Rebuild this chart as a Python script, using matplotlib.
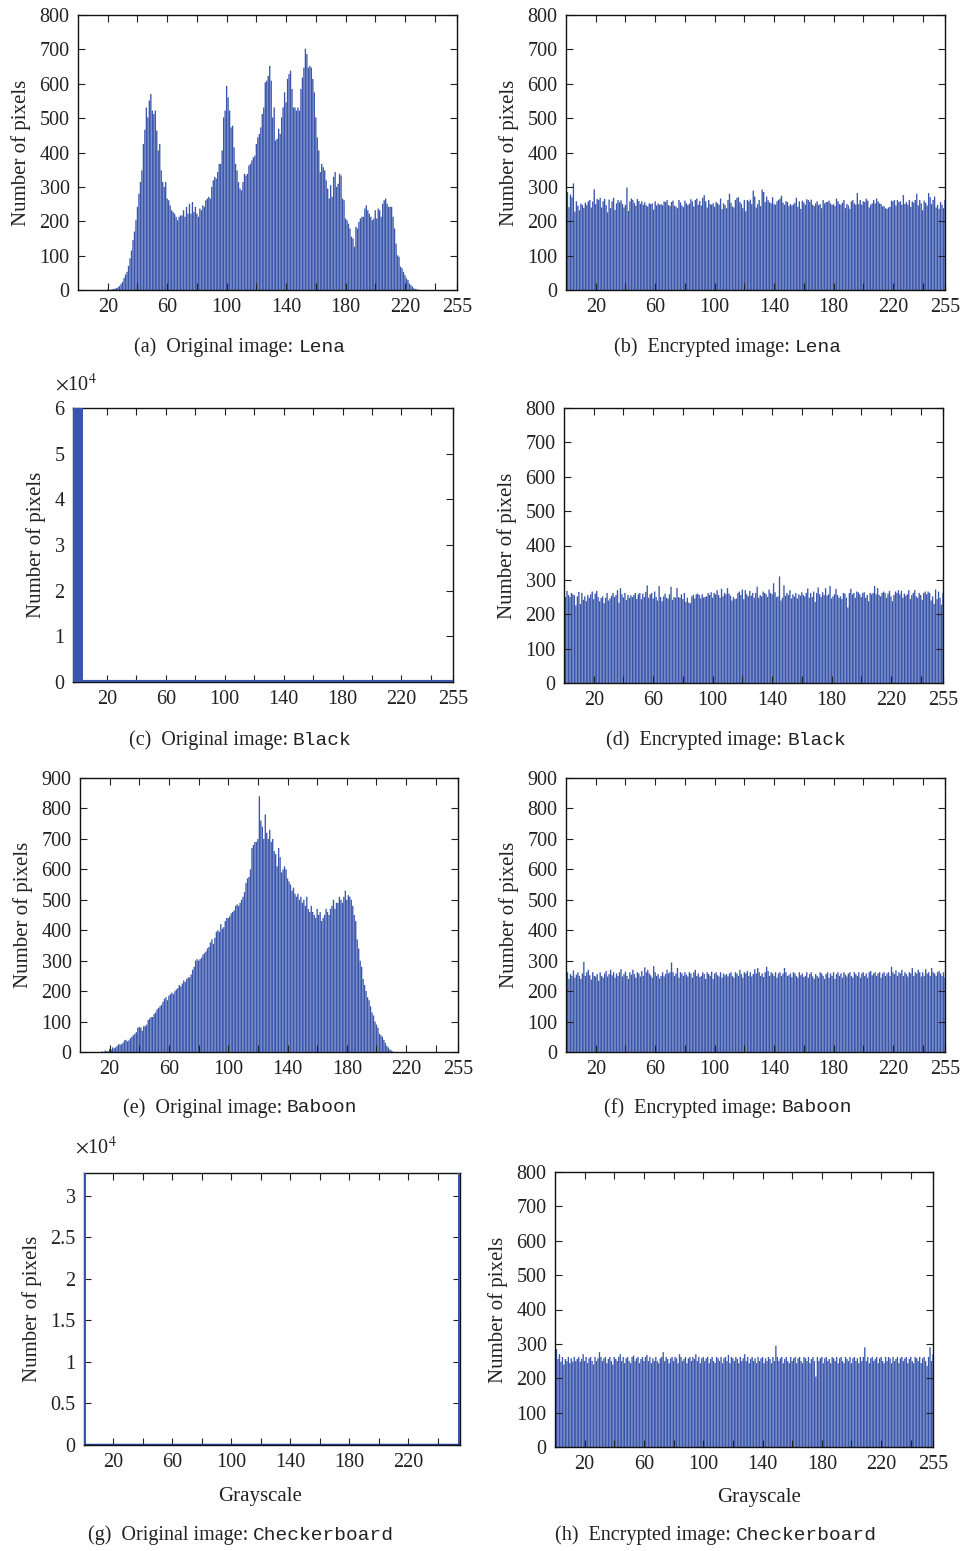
import numpy as np
import matplotlib
matplotlib.use("Agg")
import matplotlib.pyplot as plt

plt.rcParams['font.family'] = ['Liberation Serif', 'DejaVu Serif']
plt.rcParams['mathtext.fontset'] = 'stix'

##-----------------------------
## histogram data (256 grey levels each)
##-----------------------------
bins = np.arange(256)

lena_orig = [0]*20 + [
    2, 0, 1, 2, 3, 4, 6, 8, 12, 18, 24, 35, 45, 53, 70, 92,
    115, 145, 170, 203, 242, 280, 314, 348, 425, 466, 531, 502, 551, 570, 522, 512,
    522, 464, 406, 425, 348, 314, 300, 314, 266, 261, 246, 232, 227, 222, 213, 203,
    213, 217, 217, 232, 213, 242, 222, 251, 222, 256, 227, 242, 222, 213, 237, 232,
    246, 242, 261, 266, 271, 266, 300, 319, 329, 324, 343, 367, 367, 406, 502, 522,
    594, 560, 522, 473, 478, 415, 367, 348, 314, 295, 290, 314, 338, 333, 338, 362,
    367, 377, 386, 391, 425, 444, 454, 473, 512, 531, 604, 609, 623, 652, 609, 502,
    531, 435, 440, 469, 454, 502, 531, 575, 546, 614, 628, 638, 585, 531, 531, 522,
    531, 522, 585, 618, 647, 702, 686, 647, 652, 647, 614, 575, 502, 444, 406, 343,
    367, 357, 348, 319, 295, 266, 305, 271, 329, 343, 300, 309, 338, 333, 266, 261,
    208, 203, 193, 179, 155, 150, 126, 184, 179, 198, 208, 213, 213, 237, 246, 232,
    222, 213, 203, 208, 232, 208, 237, 232, 213, 251, 261, 266, 251, 242, 242, 242,
    213, 179, 135, 101, 97, 68, 63, 53, 43, 34, 29, 19, 14, 10, 5, 3,
    2, 1] + [0]*26

lena_enc = [
    262, 285, 241, 278, 270, 310, 228, 258, 245, 232, 251, 248, 239, 254, 247, 258,
    262, 240, 257, 293, 250, 265, 262, 268, 240, 258, 265, 247, 226, 263, 238, 258,
    268, 233, 252, 262, 255, 261, 250, 240, 248, 298, 230, 258, 266, 262, 253, 245,
    265, 259, 251, 258, 248, 255, 246, 243, 252, 250, 252, 234, 258, 246, 252, 248,
    250, 246, 258, 256, 262, 247, 244, 256, 260, 245, 243, 238, 262, 255, 246, 241,
    260, 252, 247, 251, 264, 258, 243, 262, 266, 248, 259, 246, 268, 276, 258, 240,
    262, 250, 248, 252, 242, 256, 252, 248, 266, 235, 252, 247, 238, 262, 280, 254,
    243, 240, 262, 268, 270, 256, 250, 238, 262, 229, 262, 258, 263, 250, 289, 272,
    240, 250, 262, 244, 292, 285, 256, 272, 261, 255, 252, 270, 250, 248, 258, 262,
    266, 274, 254, 248, 258, 256, 244, 250, 246, 249, 254, 268, 242, 258, 236, 260,
    255, 248, 264, 262, 256, 263, 248, 244, 252, 258, 247, 250, 238, 262, 252, 256,
    256, 260, 252, 247, 250, 244, 266, 258, 250, 248, 254, 262, 238, 250, 246, 236,
    258, 262, 252, 248, 282, 250, 262, 248, 258, 256, 266, 260, 240, 248, 252, 262,
    252, 266, 258, 252, 250, 243, 244, 238, 236, 240, 242, 260, 258, 262, 246, 262,
    256, 258, 248, 276, 250, 256, 248, 262, 242, 258, 254, 262, 280, 246, 262, 252,
    232, 260, 254, 246, 282, 270, 250, 262, 272, 240, 248, 236, 256, 248, 238, 262]

black_orig = [65536] + [0]*255

black_enc = [
    258, 250, 268, 256, 250, 262, 258, 255, 226, 252, 265, 230, 262, 242, 252, 238,
    256, 248, 258, 266, 244, 260, 268, 250, 238, 247, 252, 232, 248, 262, 240, 246,
    254, 262, 250, 256, 270, 234, 276, 258, 249, 262, 241, 256, 248, 255, 250, 256,
    262, 245, 258, 262, 244, 260, 250, 265, 284, 248, 258, 262, 246, 266, 250, 240,
    282, 250, 238, 252, 260, 248, 245, 258, 280, 242, 250, 248, 276, 250, 248, 258,
    244, 262, 236, 248, 234, 232, 252, 257, 246, 258, 260, 256, 246, 258, 249, 250,
    252, 262, 256, 264, 248, 262, 258, 270, 256, 248, 274, 252, 262, 258, 276, 260,
    254, 240, 250, 244, 246, 262, 266, 256, 272, 244, 270, 258, 252, 268, 254, 262,
    248, 262, 280, 248, 256, 252, 266, 262, 258, 250, 272, 262, 258, 290, 264, 250,
    252, 310, 240, 248, 284, 254, 262, 256, 270, 246, 258, 252, 262, 246, 258, 254,
    264, 256, 252, 262, 275, 248, 262, 250, 266, 236, 262, 278, 258, 250, 264, 256,
    276, 254, 258, 282, 246, 252, 258, 274, 256, 248, 252, 244, 262, 260, 248, 220,
    262, 274, 258, 262, 248, 266, 264, 258, 250, 262, 264, 248, 256, 238, 262, 258,
    262, 282, 258, 276, 256, 252, 262, 266, 262, 248, 260, 268, 252, 238, 256, 266,
    262, 270, 258, 268, 248, 260, 254, 258, 270, 244, 256, 262, 270, 252, 248, 262,
    256, 242, 262, 266, 258, 266, 262, 240, 252, 230, 272, 244, 266, 248, 228, 262]

baboon_orig = [0]*15 + [
    2, 0, 5, 2, 3, 10, 8, 15, 12, 15, 20, 25, 25, 25, 30, 38,
    40, 35, 38, 45, 50, 55, 60, 65, 80, 82, 80, 70, 85, 85, 90, 105,
    110, 115, 115, 125, 130, 140, 145, 150, 155, 165, 175, 180, 170, 185, 190, 195,
    190, 200, 205, 210, 220, 215, 225, 235, 230, 240, 245, 245, 255, 270, 280, 300,
    305, 300, 305, 310, 320, 325, 330, 340, 345, 360, 370, 355, 375, 395, 400, 395,
    420, 405, 410, 430, 440, 440, 445, 455, 460, 465, 480, 485, 480, 490, 500, 510,
    525, 555, 570, 575, 600, 670, 680, 690, 690, 700, 840, 760, 740, 700, 780, 720,
    700, 730, 690, 700, 660, 650, 610, 670, 640, 590, 600, 610, 600, 570, 560, 550,
    530, 540, 520, 510, 520, 500, 510, 490, 500, 480, 510, 470, 460, 480, 460, 450,
    440, 470, 450, 460, 430, 440, 450, 470, 460, 450, 470, 480, 500, 470, 490, 490,
    510, 500, 490, 510, 530, 500, 515, 510, 500, 480, 450, 430, 370, 340, 300, 280,
    240, 220, 200, 180, 170, 150, 130, 120, 100, 90, 80, 60, 55, 50, 40, 30,
    20, 15, 8, 5, 2] + [0]*44

baboon_enc = [
    248, 262, 240, 256, 250, 268, 244, 254, 262, 250, 240, 258, 296, 250, 262, 270,
    252, 238, 262, 250, 248, 256, 234, 262, 250, 244, 258, 266, 248, 256, 270, 252,
    262, 244, 258, 250, 262, 272, 248, 256, 264, 250, 240, 262, 254, 270, 256, 244,
    262, 258, 248, 266, 250, 278, 262, 270, 258, 252, 244, 282, 262, 250, 256, 242,
    250, 262, 248, 256, 270, 258, 262, 294, 262, 250, 258, 276, 244, 262, 258, 250,
    262, 254, 248, 262, 258, 244, 262, 270, 250, 258, 246, 250, 262, 256, 240, 262,
    256, 250, 264, 240, 258, 262, 252, 248, 262, 244, 258, 252, 256, 248, 258, 262,
    250, 244, 262, 258, 250, 270, 256, 244, 262, 258, 266, 250, 262, 248, 256, 272,
    258, 276, 262, 250, 258, 246, 262, 280, 266, 250, 262, 258, 250, 262, 244, 258,
    262, 250, 258, 276, 262, 250, 252, 258, 246, 262, 258, 250, 244, 262, 252, 258,
    246, 250, 262, 244, 256, 262, 248, 240, 256, 250, 244, 262, 258, 250, 240, 256,
    262, 244, 258, 250, 262, 240, 256, 262, 250, 258, 244, 262, 254, 248, 258, 262,
    250, 244, 262, 256, 250, 262, 244, 258, 262, 250, 258, 244, 262, 266, 252, 258,
    262, 250, 258, 262, 244, 258, 262, 250, 258, 262, 250, 280, 262, 256, 268, 250,
    262, 258, 270, 250, 262, 256, 248, 262, 258, 276, 250, 262, 258, 270, 262, 248,
    262, 250, 272, 258, 262, 250, 276, 262, 258, 250, 262, 266, 258, 250, 262, 244]

checker_orig = [32768] + [0]*254 + [32768]

checker_enc = [
    262, 285, 256, 270, 248, 262, 240, 256, 250, 262, 244, 258, 248, 262, 250, 256,
    262, 248, 256, 270, 250, 262, 244, 258, 262, 250, 240, 262, 250, 258, 276, 262,
    250, 258, 262, 244, 256, 262, 250, 240, 262, 256, 250, 262, 270, 250, 262, 244,
    258, 262, 250, 244, 262, 266, 250, 258, 262, 244, 256, 262, 250, 262, 268, 250,
    262, 244, 258, 250, 262, 250, 244, 258, 262, 276, 250, 262, 256, 244, 258, 262,
    250, 262, 258, 244, 270, 262, 250, 256, 262, 244, 258, 262, 250, 262, 256, 270,
    250, 262, 244, 258, 262, 250, 258, 262, 244, 256, 262, 250, 244, 262, 258, 250,
    262, 244, 258, 262, 250, 268, 244, 262, 258, 250, 262, 256, 244, 262, 250, 258,
    270, 250, 262, 244, 256, 262, 250, 258, 244, 262, 250, 258, 262, 244, 258, 250,
    262, 256, 244, 262, 250, 295, 262, 250, 258, 262, 244, 256, 262, 250, 244, 262,
    250, 258, 262, 244, 258, 262, 250, 244, 262, 258, 250, 262, 244, 256, 262, 250,
    205, 262, 250, 258, 262, 244, 258, 262, 250, 256, 244, 262, 258, 250, 262, 244,
    258, 262, 250, 244, 262, 256, 250, 262, 244, 258, 262, 250, 258, 244, 262, 250,
    262, 290, 250, 262, 244, 258, 262, 250, 256, 262, 244, 258, 262, 250, 244, 262,
    250, 262, 258, 244, 262, 250, 256, 262, 244, 258, 262, 250, 258, 262, 244, 256,
    262, 250, 244, 262, 258, 250, 262, 244, 258, 262, 250, 236, 262, 290, 250, 270]

xtick_vals = [20, 40, 60, 80, 100, 120, 140, 160, 180, 200, 220, 240, 255]
xtick_labels = ['20', '', '60', '', '100', '', '140', '', '180', '', '220', '', '255']

captions = [
    ('(a)  Original image: ', 'Lena'),
    ('(b)  Encrypted image: ', 'Lena'),
    ('(c)  Original image: ', 'Black'),
    ('(d)  Encrypted image: ', 'Black'),
    ('(e)  Original image: ', 'Baboon'),
    ('(f)  Encrypted image: ', 'Baboon'),
    ('(g)  Original image: ', 'Checkerboard'),
    ('(h)  Encrypted image: ', 'Checkerboard'),
]

BAR = '#3a56ab'
TXT = '#222222'
W, H = 964, 1551

##-----------------------------
## layout (pixels: left, top, right, bottom)
##-----------------------------
boxes = [
    (78, 15, 457, 290), (566, 15, 945, 290),
    (73, 408, 453, 682), (564, 408, 943, 683),
    (80, 778, 458, 1052), (566, 778, 945, 1052),
    (84, 1173, 460, 1445), (555, 1172, 933, 1447),
]
cap_pos = [(240, 347), (728, 347), (240, 740), (726, 740),
           (240, 1108), (728, 1108), (241, 1535), (716, 1535)]

fig = plt.figure(figsize=(W/100, H/100), dpi=100)

def make_ax(i):
    l, t, r, b = boxes[i]
    ax = fig.add_axes([l/W, 1 - b/H, (r-l)/W, (b-t)/H])
    ax.tick_params(direction='in', length=5, width=0.8, top=True, right=True,
                   labelsize=14.5, pad=6, colors=TXT)
    for s in ax.spines.values():
        s.set_linewidth(1.0)
        s.set_color('#111111')
    ax.set_ylabel('Number of pixels', fontsize=15, color=TXT, labelpad=6)
    return ax

series = [lena_orig, lena_enc, black_orig, black_enc,
          baboon_orig, baboon_enc, checker_orig, checker_enc]
ylims = [800, 800, 60000, 800, 900, 900, 32768, 800]

axes = []
for i, counts in enumerate(series):
    ax = make_ax(i)
    if i == 2:
        ax.bar(bins, counts, width=8, color=BAR, linewidth=0, zorder=3)
        ax.axhline(0, color=BAR, lw=3, zorder=5)
        ax.set_xlim(-3, 255)
    elif i == 6:
        ax.bar(bins, counts, width=2.4, color=BAR, linewidth=0, zorder=3)
        ax.axhline(0, color='#1f3a8a', lw=2.5, zorder=5)
        ax.set_xlim(0, 255)
    else:
        ax.bar(bins, counts, width=0.9, color=BAR, linewidth=0, snap=False)
        ax.set_xlim(0, 255)
    ax.set_ylim(0, ylims[i])
    if i == 6:
        ax.set_xticks(xtick_vals[:-1])
        ax.set_xticklabels(xtick_labels[:-1])
    else:
        ax.set_xticks(xtick_vals)
        ax.set_xticklabels(xtick_labels)
    if i == 2:
        ax.set_yticks(np.arange(0, 60001, 10000))
        ax.set_yticklabels([str(k) for k in range(7)])
    elif i == 6:
        ax.set_yticks(np.arange(0, 30001, 5000))
        ax.set_yticklabels(['0', '0.5', '1', '1.5', '2', '2.5', '3'])
    else:
        ax.set_yticks(np.arange(0, ylims[i] + 1, 100))
    axes.append(ax)

axes[6].set_xlabel('Grayscale', fontsize=15, color=TXT)
axes[7].set_xlabel('Grayscale', fontsize=15, color=TXT)
axes[6].xaxis.set_label_coords(0.468, -0.155)
axes[7].xaxis.set_label_coords(0.54, -0.15)

fig.text(55/W, 1 - 385/H, r'$\times$10$^4$', fontsize=14.5, va='center', color=TXT)
fig.text(75/W, 1 - 1148/H, r'$\times$10$^4$', fontsize=14.5, va='center', color=TXT)

## captions: serif part + monospaced image name, centred together
fig.canvas.draw()
rend = fig.canvas.get_renderer()
for (pre, name), (cx, cy) in zip(captions, cap_pos):
    t1 = fig.text(0, 1 - cy/H, pre, fontsize=14.5, va='center', color=TXT)
    t2 = fig.text(0, 1 - cy/H, name, fontsize=14, va='center', color=TXT,
                  family='Liberation Mono')
    w1 = t1.get_window_extent(rend).width
    w2 = t2.get_window_extent(rend).width
    x0 = cx - (w1 + w2) / 2
    t1.set_x(x0 / W)
    t2.set_x((x0 + w1) / W)

plt.savefig('out.png', dpi=100)
